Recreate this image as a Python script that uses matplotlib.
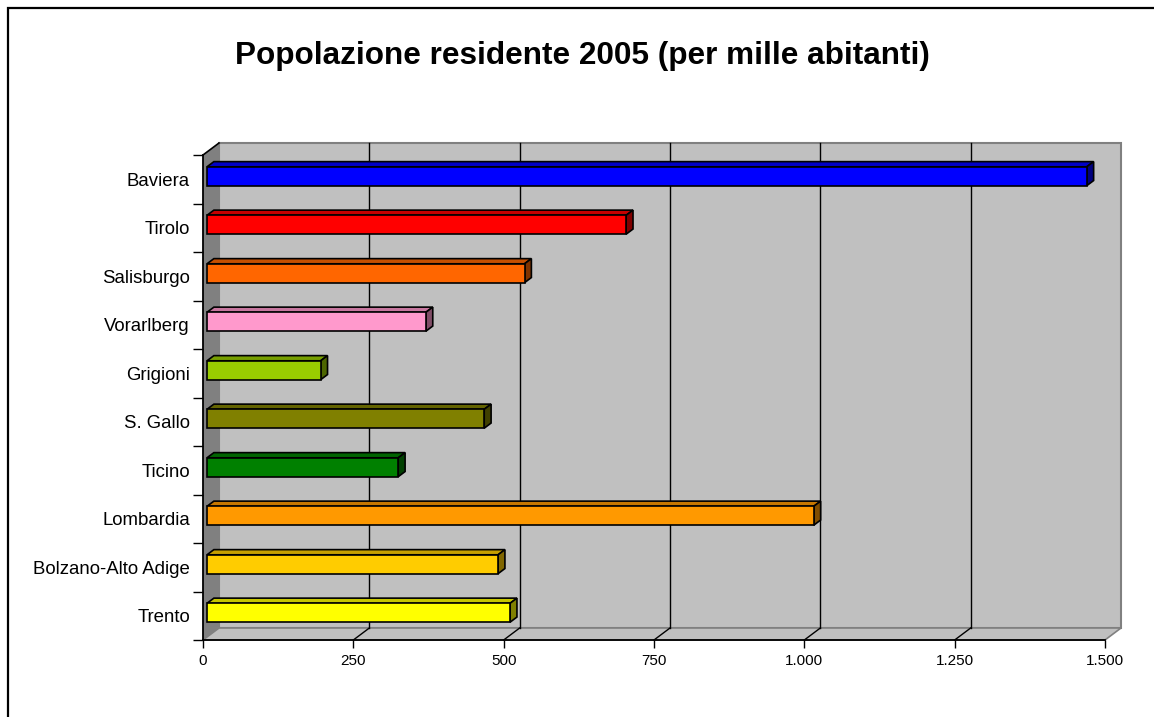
import numpy as np
import matplotlib
matplotlib.use('Agg')
import matplotlib.pyplot as plt
from matplotlib.patches import Polygon, Rectangle
from matplotlib.colors import to_rgb
from matplotlib.transforms import offset_copy

categories = ['Baviera', 'Tirolo', 'Salisburgo', 'Vorarlberg', 'Grigioni',
              'S. Gallo', 'Ticino', 'Lombardia', 'Bolzano-Alto Adige', 'Trento']
values = [1463, 697, 528, 364, 189, 461, 318, 1009, 484, 504]
colors = ['#0000FF', '#FF0000', '#FF6600', '#FF99CC', '#99CC00',
          '#808000', '#008000', '#FF9900', '#FFCC00', '#FFFF00']
xticks = [0, 250, 500, 750, 1000, 1250, 1500]
xticklabels = ['0', '250', '500', '750', '1.000', '1.250', '1.500']
title = 'Popolazione residente 2005 (per mille abitanti)'

plt.rcParams['font.family'] = ['Liberation Sans', 'DejaVu Sans']

W, H = 1154, 717
fig = plt.figure(figsize=(W / 100, H / 100), dpi=100)
fig.patch.set_facecolor('white')
ax = fig.add_axes([203 / W, 1 - 640 / H, 902 / W, 485 / H])
n = len(categories)
ax.set_xlim(0, 1500)
ax.set_ylim(n - 0.5, -0.5)
ax.patch.set_visible(False)

DX, DY = 16, 12  # full depth in pixels


def shift(pts, d):
    p = ax.transData.transform(np.asarray(pts, dtype=float))
    p[:, 0] += d * DX
    p[:, 1] += d * DY
    return ax.transData.inverted().transform(p)


y0, y1 = -0.5, n - 0.5
xmax = 1500

# back wall
wall = shift([(0, y0), (xmax, y0), (xmax, y1), (0, y1)], 1)
ax.add_patch(Polygon(wall, closed=True, fc='#C0C0C0', ec='#808080', lw=1.5,
                     zorder=0, clip_on=False))
# floor
floor = np.vstack([[(0, y1), (xmax, y1)], shift([(xmax, y1), (0, y1)], 1)])
ax.add_patch(Polygon(floor, closed=True, fc='#C0C0C0', ec='#808080', lw=1.2,
                     zorder=0.5, clip_on=False))
# left wall
lw_pts = np.vstack([[(0, y0), (0, y1)], shift([(0, y1), (0, y0)], 1)])
ax.add_patch(Polygon(lw_pts, closed=True, fc='#808080', ec='none',
                     zorder=0.6, clip_on=False))
tl = np.vstack([[(0, y0)], shift([(0, y0)], 1)])
ax.plot(tl[:, 0], tl[:, 1], color='black', lw=1.2, zorder=1, clip_on=False)

# gridlines on back wall + floor diagonals
for v in xticks[1:-1]:
    g = shift([(v, y0), (v, y1)], 1)
    ax.plot(g[:, 0], g[:, 1], color='black', lw=1.0, zorder=1, clip_on=False)
    dg = np.vstack([[(v, y1)], shift([(v, y1)], 1)])
    ax.plot(dg[:, 0], dg[:, 1], color='black', lw=1.0, zorder=1, clip_on=False)

# bars
h = 0.39
d0, d1 = 0.25, 0.68
front_tr = offset_copy(ax.transData, fig=fig, x=d0 * DX, y=d0 * DY, units='dots')
for i, (v, c) in enumerate(zip(values, colors)):
    rgb = np.array(to_rgb(c))
    ax.barh(i, v, height=h, left=0, color=c, edgecolor='black', lw=1.2,
            transform=front_tr, zorder=4, clip_on=False)
    top_f = shift([(0, i - h / 2), (v, i - h / 2)], d0)
    top_b = shift([(v, i - h / 2), (0, i - h / 2)], d1)
    ax.add_patch(Polygon(np.vstack([top_f, top_b]), closed=True,
                         fc=rgb * 0.78, ec='black', lw=1.2, zorder=3,
                         clip_on=False))
    side_f = shift([(v, i - h / 2), (v, i + h / 2)], d0)
    side_b = shift([(v, i + h / 2), (v, i - h / 2)], d1)
    ax.add_patch(Polygon(np.vstack([side_f, side_b]), closed=True,
                         fc=rgb * 0.5, ec='black', lw=1.2, zorder=3,
                         clip_on=False))

# axes spines / ticks
for s in ['top', 'right']:
    ax.spines[s].set_visible(False)
for s in ['left', 'bottom']:
    ax.spines[s].set_color('black')
    ax.spines[s].set_linewidth(1.3)
    ax.spines[s].set_zorder(2)

ax.set_yticks(np.arange(-0.5, n, 1.0))
ax.set_yticklabels([])
ax.set_yticks(np.arange(n), minor=True)
ax.set_yticklabels(categories, minor=True)
ax.tick_params(axis='y', which='major', length=7.2, width=1, color='black',
               direction='out')
ax.tick_params(axis='y', which='minor', length=0, pad=9.4, labelsize=13.4,
               labelcolor='black')
ax.set_xticks(xticks)
ax.set_xticklabels(xticklabels)
ax.tick_params(axis='x', which='major', length=5.8, width=1, color='black',
               direction='out', pad=4.5, labelsize=11)

fig.text(582 / W, 1 - 56 / H, title, ha='center', va='center',
         fontsize=22.7, fontweight='bold', color='black')

# chart area frame (extends beyond right/bottom)
fig.add_artist(Rectangle((7.5 / W, -0.5), 2, 1 - 7.5 / H + 0.5,
                         transform=fig.transFigure, fill=False, ec='black',
                         lw=1.6, clip_on=False))

fig.savefig('out.png', dpi=100)
